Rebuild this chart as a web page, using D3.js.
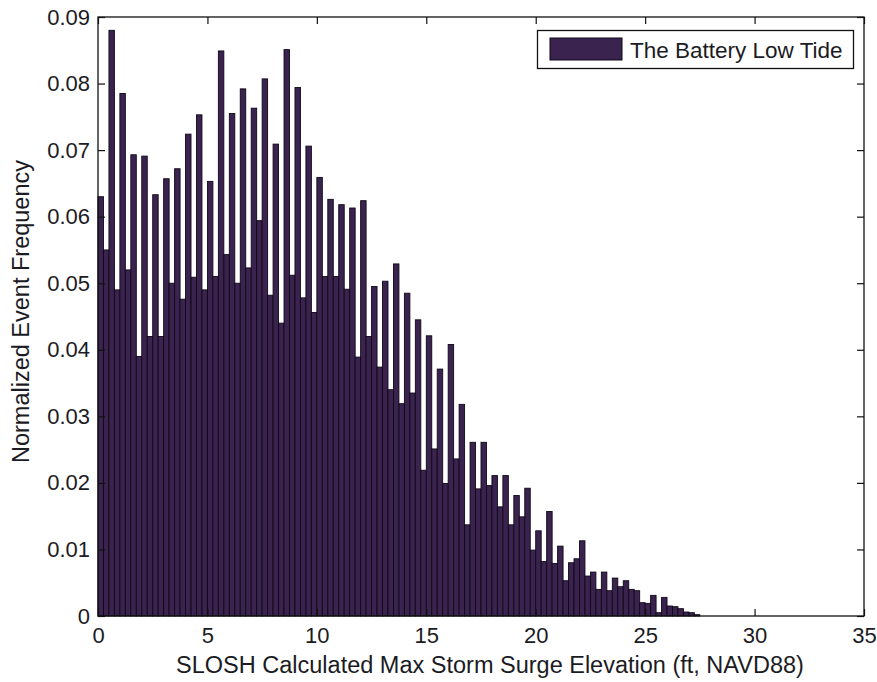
<!DOCTYPE html>
<html>
<head>
<meta charset="utf-8">
<script src="https://cdn.jsdelivr.net/npm/d3@7/dist/d3.min.js"></script>
<style>
  html, body { margin: 0; padding: 0; background: #ffffff; }
  svg { display: block; }
  text { font-family: "Liberation Sans", Arial, Helvetica, sans-serif; fill: #1b1b24; }
</style>
</head>
<body>
<svg id="chart" width="877" height="682"></svg>
<script>
// Normalized event frequency per 0.25 ft bin of SLOSH max surge elevation
const binWidth = 0.25;
const freq0to5 = [0.063, 0.055, 0.088, 0.049, 0.0785, 0.052, 0.0693, 0.039, 0.0691, 0.042,
                  0.0633, 0.042, 0.0657, 0.050, 0.0672, 0.0476, 0.0724, 0.0509, 0.0753, 0.049];
const freq5to10 = [0.0653, 0.051, 0.0849, 0.0543, 0.0755, 0.050, 0.0792, 0.0523, 0.0763, 0.0594,
                   0.0807, 0.0482, 0.0709, 0.0440, 0.0851, 0.0512, 0.0794, 0.0478, 0.0706, 0.0456];
const freq10to15 = [0.0659, 0.0510, 0.0626, 0.0510, 0.0618, 0.0491, 0.0613, 0.0389, 0.0624, 0.0420,
                    0.0495, 0.0374, 0.0503, 0.0340, 0.0529, 0.0319, 0.0485, 0.0335, 0.0445, 0.0219];
const freq15to20 = [0.0421, 0.0251, 0.0371, 0.0199, 0.0408, 0.0236, 0.0318, 0.0137, 0.0261, 0.0191,
                    0.0261, 0.0196, 0.0211, 0.0164, 0.0211, 0.0137, 0.0181, 0.0149, 0.0192, 0.0099];
const freq20to25 = [0.0128, 0.0082, 0.0157, 0.0079, 0.0105, 0.0053, 0.0080, 0.0086, 0.0113, 0.0060,
                    0.0066, 0.0040, 0.0066, 0.0038, 0.0057, 0.0044, 0.0053, 0.0040, 0.0038, 0.0020];
const freq25to275 = [0.0019, 0.0031, 0.0005, 0.0028, 0.0015, 0.0014, 0.0011, 0.0006, 0.0005, 0.0002];

const frequencies = [].concat(freq0to5, freq5to10, freq10to15, freq15to20, freq20to25, freq25to275);

const xTicks = [0, 5, 10, 15, 20, 25, 30, 35];
const yTicks = [0, 0.01, 0.02, 0.03, 0.04, 0.05, 0.06, 0.07, 0.08, 0.09];
const yTickLabels = ["0", "0.01", "0.02", "0.03", "0.04", "0.05", "0.06", "0.07", "0.08", "0.09"];

const seriesName = "The Battery Low Tide";
const xLabel = "SLOSH Calculated Max Storm Surge Elevation (ft, NAVD88)";
const yLabel = "Normalized Event Frequency";

const bins = frequencies.map((f, i) => ({ x0: i * binWidth, x1: (i + 1) * binWidth, f }));

const svg = d3.select("#chart");
const plot = { left: 98, right: 864, top: 17, bottom: 616 };

const x = d3.scaleLinear().domain([0, 35]).range([plot.left, plot.right]);
const y = d3.scaleLinear().domain([0, 0.09]).range([plot.bottom, plot.top]);

const barFill = "#3b2350";
const barEdge = "#0f0816";

// histogram bars
svg.append("g")
  .selectAll("rect")
  .data(bins)
  .join("rect")
  .attr("x", d => x(d.x0))
  .attr("width", d => x(d.x1) - x(d.x0))
  .attr("y", d => y(d.f))
  .attr("height", d => y(0) - y(d.f))
  .attr("fill", barFill)
  .attr("stroke", barEdge)
  .attr("stroke-width", 0.9);

// axes with inward ticks, mirrored on top and right (boxed frame)
const tickLen = 7;
const fmtY = d => yTickLabels[yTicks.indexOf(d)];

const bottomAxis = d3.axisBottom(x).tickValues(xTicks).tickSizeInner(-tickLen).tickSizeOuter(0).tickPadding(11).tickFormat(d3.format("d"));
const topAxis = d3.axisTop(x).tickValues(xTicks).tickSizeInner(-tickLen).tickSizeOuter(0).tickFormat("");
const leftAxis = d3.axisLeft(y).tickValues(yTicks).tickSizeInner(-tickLen).tickSizeOuter(0).tickPadding(8).tickFormat(fmtY);
const rightAxis = d3.axisRight(y).tickValues(yTicks).tickSizeInner(-tickLen).tickSizeOuter(0).tickFormat("");

function styleAxis(g) {
  g.select(".domain").remove();
  g.selectAll(".tick line").attr("stroke", "#111").attr("stroke-width", 1.2);
  g.selectAll(".tick text")
    .style("font-family", '"Liberation Sans", Arial, sans-serif')
    .style("font-size", "22px")
    .attr("fill", "#1b1b24");
}

svg.append("g").attr("transform", `translate(0,${plot.bottom})`).call(bottomAxis).call(styleAxis);
svg.append("g").attr("transform", `translate(0,${plot.top})`).call(topAxis).call(styleAxis);
svg.append("g").attr("transform", `translate(${plot.left},0)`).call(leftAxis).call(styleAxis);
svg.append("g").attr("transform", `translate(${plot.right},0)`).call(rightAxis).call(styleAxis);

// frame
svg.append("rect")
  .attr("x", plot.left).attr("y", plot.top)
  .attr("width", plot.right - plot.left).attr("height", plot.bottom - plot.top)
  .attr("fill", "none").attr("stroke", "#111").attr("stroke-width", 1.3);

// axis titles
svg.append("text")
  .attr("x", (plot.left + plot.right) / 2 + 9)
  .attr("y", 673)
  .attr("text-anchor", "middle")
  .style("font-size", "23.5px")
  .text(xLabel);

svg.append("text")
  .attr("transform", `translate(28.5,${(plot.top + plot.bottom) / 2 - 5}) rotate(-90)`)
  .attr("text-anchor", "middle")
  .style("font-size", "23.5px")
  .text(yLabel);

// legend
const legend = svg.append("g");
legend.append("rect")
  .attr("x", 537.5).attr("y", 30.5).attr("width", 316).attr("height", 38)
  .attr("fill", "#ffffff").attr("stroke", "#111").attr("stroke-width", 1.3);
legend.append("rect")
  .attr("x", 550).attr("y", 38).attr("width", 72).attr("height", 22)
  .attr("fill", barFill).attr("stroke", barEdge).attr("stroke-width", 1);
legend.append("text")
  .attr("x", 630).attr("y", 58)
  .style("font-size", "22.5px")
  .text(seriesName);
</script>
</body>
</html>
